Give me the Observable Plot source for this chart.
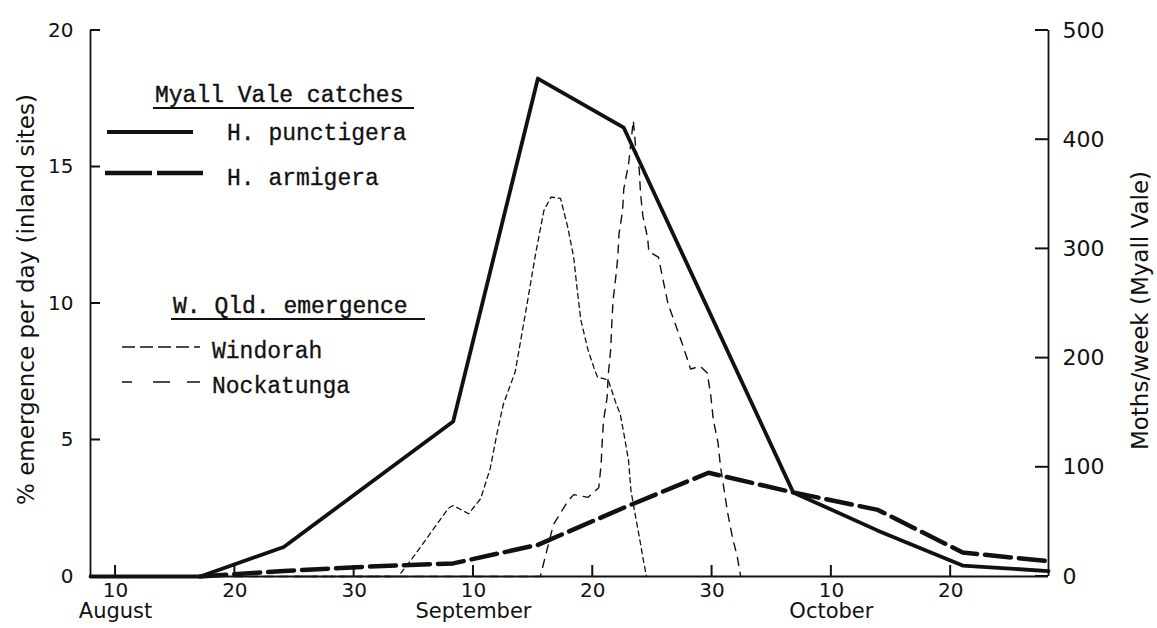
<!DOCTYPE html>
<html><head><meta charset="utf-8">
<script src="https://cdn.jsdelivr.net/npm/d3@7"></script>
<script src="https://cdn.jsdelivr.net/npm/@observablehq/plot@0.6"></script>
<style>
body{margin:0;background:#fff;}
#wrap{position:relative;width:1157px;height:628px;overflow:hidden;}
#wrap svg{position:absolute;left:0;top:0;}
</style></head><body><div id="wrap"></div>
<script>
// ---- axis ticks / labels ----
const xTicks = [10, 20, 30, 40, 50, 60, 70, 80];
const xTickLabels = ["10", "20", "30", "10", "20", "30", "10", "20"];
const monthPos = [10, 40, 70];
const monthLabels = ["August", "September", "October"];
const leftTicks = [0, 5, 10, 15, 20];
const rightTicks = [0, 100, 200, 300, 400, 500];
const mothsPerPercent = 25; // 500 moths/week <-> 20 % per day
const xDomain = [7.9, 88.2];
const yDomain = [0, 20];

// ---- Myall Vale catches (moths/week, right axis) ----
const punctX = [7.9, 17.1, 24.1, 38.3, 45.4, 52.6, 66.8, 73.9, 81.0, 88.2];
const punctigera = [0, 0, 27, 142, 456, 411, 77, 42, 10, 5];
const armX = [17.1, 24.1, 31.2, 38.3, 45.4, 52.6, 59.7, 66.8, 73.9, 81.0, 88.2];
const armigera = [0, 5, 9, 12, 29, 63, 95, 77, 61, 22, 14];

// ---- W. Qld. emergence (% per day, left axis) ----
const windX = [25, 33.7, 35.1, 37.9, 38.3, 39.6, 40.6, 41.4, 42.0, 42.5, 43.5, 44.5, 45.2, 45.9, 46.5, 47.3, 47.9, 48.4, 48.7, 49.0, 49.6, 50.1, 50.4, 50.9, 51.3, 51.9, 52.3, 52.6, 53.0, 53.2, 53.5, 53.9, 54.2, 54.5];
const windorah = [0, 0, 0.8, 2.5, 2.6, 2.3, 2.85, 3.95, 5.3, 6.3, 7.5, 10.0, 11.8, 13.4, 13.9, 13.85, 12.8, 11.7, 10.5, 9.4, 8.3, 7.65, 7.3, 7.25, 7.2, 6.4, 5.95, 5.25, 4.25, 3.15, 2.4, 1.45, 0.7, 0];
const nockX = [20, 45.6, 46.7, 47.9, 48.4, 49.6, 50.5, 50.7, 50.8, 50.9, 51.2, 51.3, 51.5, 51.6, 51.7, 51.9, 52.1, 52.2, 52.5, 52.6, 53.0, 53.4, 53.6, 53.9, 54.0, 54.2, 54.6, 54.7, 55.5, 55.9, 56.3, 57.0, 57.6, 58.2, 59.0, 59.6, 59.9, 60.1, 60.5, 60.7, 61.0, 61.3, 61.7, 62.1, 62.4];
const nockatunga = [0, 0, 1.9, 2.75, 3.0, 2.9, 3.25, 4.1, 5.0, 5.7, 6.55, 7.4, 8.3, 9.3, 10.1, 10.85, 11.7, 12.55, 13.4, 14.2, 15.1, 16.7, 15.7, 14.9, 14.05, 13.2, 12.4, 11.9, 11.7, 10.85, 10.0, 9.15, 8.4, 7.6, 7.7, 7.45, 6.6, 5.75, 4.9, 4.05, 3.2, 2.35, 1.45, 0.75, 0];

const leftLabel = "% emergence per day (inland sites)";
const rightLabel = "Moths/week (Myall Vale)";

const ink = "#111";
const W = 1157, H = 628, mL = 90, mR = 109, mT = 30, mB = 52;
const punct = punctX.map((x, i) => ({x, m: punctigera[i]}));
const arm = armX.map((x, i) => ({x, m: armigera[i]}));
const wind = windX.map((x, i) => ({x, v: windorah[i]}));
const nock = nockX.map((x, i) => ({x, v: nockatunga[i]}));
const toLeft = d => d.m / mothsPerPercent;
const rightTickPos = rightTicks.map(d => d / mothsPerPercent);

const chart = Plot.plot({
  width: W, height: H,
  marginLeft: mL, marginRight: mR, marginTop: mT, marginBottom: mB,
  style: {fontFamily: "DejaVu Sans", fontSize: "20px", color: ink, background: "transparent"},
  x: {type: "linear", domain: xDomain},
  y: {domain: yDomain},
  marks: [
    Plot.ruleY([0], {stroke: ink, strokeWidth: 1.8}),
    Plot.ruleX([xDomain[0]], {stroke: ink, strokeWidth: 1.8}),
    Plot.ruleX([xDomain[1]], {stroke: ink, strokeWidth: 1.8}),
    Plot.axisX({ticks: xTicks, tickFormat: d => xTickLabels[xTicks.indexOf(d)], tickSize: 0, tickPadding: 6, fontSize: 20, label: null}),
    Plot.axisX({ticks: monthPos, tickFormat: d => monthLabels[monthPos.indexOf(d)], tickSize: 0, tickPadding: 27, fontSize: 21, label: null}),
    Plot.axisY({ticks: leftTicks, anchor: "left", tickSize: 0, tickPadding: 17, fontSize: 20, label: null}),
    Plot.axisY({ticks: rightTickPos, tickFormat: d => rightTicks[Math.round(d * mothsPerPercent / 100)], anchor: "right", tickSize: 0, tickPadding: 14, fontSize: 22, label: null}),
    Plot.text([leftLabel], {frameAnchor: "left", dx: -64, dy: -4, rotate: -90, fontSize: 23, fill: ink, textAnchor: "middle", lineAnchor: "middle"}),
    Plot.text([rightLabel], {frameAnchor: "right", dx: 92, dy: 7, rotate: -90, fontSize: 23, fill: ink, textAnchor: "middle", lineAnchor: "middle"}),
    Plot.line(wind, {x: "x", y: "v", stroke: ink, strokeWidth: 1.3, strokeDasharray: "5,4"}),
    Plot.line(nock, {x: "x", y: "v", stroke: ink, strokeWidth: 1.4, strokeDasharray: "8,7"}),
    Plot.line(arm, {x: "x", y: toLeft, stroke: ink, strokeWidth: 4.5, strokeDasharray: "26,8"}),
    Plot.line(punct, {x: "x", y: toLeft, stroke: ink, strokeWidth: 3.8})
  ]
});
document.getElementById("wrap").appendChild(chart);

// ---- overlay: inward tick marks and legend ----
const sx = d3.scaleLinear(xDomain, [mL, W - mR]);
const sy = d3.scaleLinear(yDomain, [H - mB, mT]);
const lg = d3.select("#wrap").append("svg").attr("width", W).attr("height", H);
const x0 = sx(xDomain[0]), x1 = sx(xDomain[1]), yb = sy(0);
lg.append("g").selectAll("line").data(xTicks).join("line")
  .attr("x1", d => sx(d)).attr("x2", d => sx(d)).attr("y1", yb).attr("y2", yb - 11)
  .attr("stroke", ink).attr("stroke-width", 2);
lg.append("g").selectAll("line").data(leftTicks).join("line")
  .attr("x1", x0).attr("x2", x0 + 10).attr("y1", d => sy(d)).attr("y2", d => sy(d))
  .attr("stroke", ink).attr("stroke-width", 2);
lg.append("g").selectAll("line").data(rightTickPos).join("line")
  .attr("x1", x1 - 13).attr("x2", x1).attr("y1", d => sy(d)).attr("y2", d => sy(d))
  .attr("stroke", ink).attr("stroke-width", 2);

const mono = "'Liberation Mono', 'DejaVu Sans Mono', monospace";
function head(txt, x, y, xa, xb) {
  lg.append("text").attr("x", x).attr("y", y).attr("font-family", mono).attr("font-size", 23).attr("fill", ink).attr("stroke", ink).attr("stroke-width", 0.4).text(txt);
  lg.append("line").attr("x1", xa).attr("x2", xb).attr("y1", y + 6).attr("y2", y + 6).attr("stroke", ink).attr("stroke-width", 1.8);
}
function item(txt, tx, ty, xa, xb, ly, sw, dash) {
  const l = lg.append("line").attr("x1", xa).attr("x2", xb).attr("y1", ly).attr("y2", ly).attr("stroke", ink).attr("stroke-width", sw);
  if (dash) l.attr("stroke-dasharray", dash);
  lg.append("text").attr("x", tx).attr("y", ty).attr("font-family", mono).attr("font-size", 23).attr("fill", ink).attr("stroke", ink).attr("stroke-width", 0.3).text(txt);
}
head("Myall Vale catches", 155, 102, 153, 414);
item("H. punctigera", 227, 140, 107, 193, 132, 4, null);
item("H. armigera", 227, 185, 105, 203, 173, 4.5, "47,5");
head("W. Qld. emergence", 173, 313, 171, 425);
item("Windorah", 212, 358, 122, 200, 347, 1.6, "13,5");
item("Nockatunga", 212, 393, 122, 200, 382, 1.6, "10,21,17,17,13");
</script>
</body></html>
